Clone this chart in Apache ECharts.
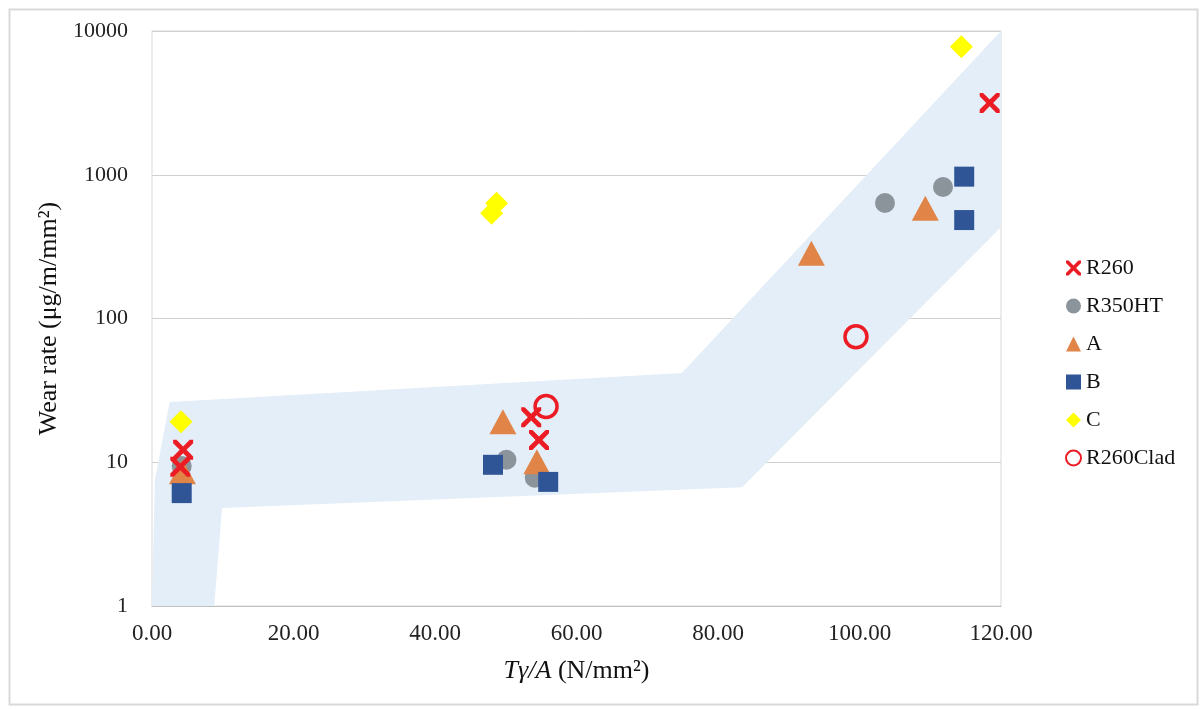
<!DOCTYPE html>
<html>
<head>
<meta charset="utf-8">
<script src="https://cdn.jsdelivr.net/npm/echarts@6/dist/echarts.min.js"></script>
<style>
html,body{margin:0;padding:0;background:#fff;}
#chart{width:1202px;height:709px;}
</style>
</head>
<body>
<div id="chart"></div>
<script>
// ---- data ----
const xTicks = [0, 20, 40, 60, 80, 100, 120];
const yTicks = [1, 10, 100, 1000, 10000];

const bandX = [2.5, 74.9, 120, 120, 83.4, 9.9, 8.8, 0, 0.4];
const bandY = [26.2, 41.8, 10000, 433, 6.7, 4.8, 1, 1, 7.5];

const r260X = [4.4, 4.0, 53.6, 54.7, 118.4];
const r260Y = [12.2, 9.3, 20.6, 14.3, 3160];

const r350X = [4.2, 50.1, 54.1, 103.6, 111.8];
const r350Y = [9.4, 10.4, 7.8, 636, 822];

const aX = [4.3, 49.6, 54.4, 93.2, 109.3];
const aY = [8.6, 19.1, 10.1, 284, 584];

const bX = [4.2, 48.2, 56.0, 114.8, 114.8];
const bY = [6.1, 9.6, 7.3, 970, 484];

const cX = [4.1, 48.7, 48.0, 114.4];
const cY = [19.1, 633, 539, 7780];

const cladX = [55.7, 99.5];
const cladY = [24.4, 74.7];

const seriesNames = ['R260', 'R350HT', 'A', 'B', 'C', 'R260Clad'];

// ---- chart ----
const pair = (xs, ys) => xs.map((x, i) => [x, ys[i]]);
const crossPath = 'path://M0,0 L1.7,0 L5,3.3 L8.3,0 L10,0 L10,1.7 L6.7,5 L10,8.3 L10,10 L8.3,10 L5,6.7 L1.7,10 L0,10 L0,8.3 L3.3,5 L0,1.7 Z';
const FONT = '"Liberation Serif", "Times New Roman", serif';

const chart = echarts.init(document.getElementById('chart'), null, {renderer: 'canvas'});
chart.setOption({
  backgroundColor: '#ffffff',
  animation: false,
  textStyle: {fontFamily: FONT},
  graphic: [{
    type: 'rect', left: 7, top: 7, z: -10,
    shape: {width: 1188, height: 695},
    style: {fill: 'none', stroke: '#d9d9d9', lineWidth: 2}
  }],
  grid: {left: 152, right: 201, top: 31, bottom: 103, show: true, borderColor: '#d9d9d9', borderWidth: 1, backgroundColor: 'transparent'},
  legend: {
    orient: 'vertical', left: 1060, top: 252,
    itemWidth: 15, itemHeight: 15, itemGap: 16,
    data: seriesNames,
    textStyle: {fontFamily: FONT, fontSize: 22, color: '#111'}
  },
  xAxis: {
    type: 'value', min: xTicks[0], max: xTicks[xTicks.length - 1], interval: 20,
    axisLine: {show: true, lineStyle: {color: '#bfbfbf', width: 1}},
    axisTick: {show: false},
    splitLine: {show: false},
    axisLabel: {fontFamily: FONT, fontSize: 23, color: '#222', margin: 16,
      formatter: v => Number(v).toFixed(2)},
    name: '{i|Tγ/A}{n| (N/mm²)}',
    nameLocation: 'middle', nameGap: 52,
    nameTextStyle: {rich: {
      i: {fontFamily: FONT, fontSize: 26, fontStyle: 'italic', color: '#111'},
      n: {fontFamily: FONT, fontSize: 26, color: '#111'}
    }}
  },
  yAxis: {
    type: 'log', logBase: 10, min: yTicks[0], max: yTicks[yTicks.length - 1],
    axisLine: {show: false},
    axisTick: {show: false},
    splitLine: {show: true, lineStyle: {color: '#d0d0d0', width: 1}},
    axisLabel: {fontFamily: FONT, fontSize: 22, color: '#222', margin: 24,
      formatter: v => String(Math.round(v))},
    name: 'Wear rate (μg/m/mm²)',
    nameLocation: 'middle', nameGap: 86, nameRotate: 90,
    nameTextStyle: {fontFamily: FONT, fontSize: 26, color: '#111'}
  },
  series: [
    {
      type: 'custom', name: 'band', z: 1, silent: true, clip: true,
      data: [[bandX[0], bandY[0]]],
      renderItem: (params, api) => ({
        type: 'polygon',
        shape: {points: bandX.map((x, i) => api.coord([x, bandY[i]]))},
        style: {fill: '#e4eef8'}
      })
    },
    {name: 'R260', type: 'scatter', z: 7, symbol: crossPath, symbolSize: 20,
      itemStyle: {color: '#ec1c24', opacity: 1}, data: pair(r260X, r260Y)},
    {name: 'R350HT', type: 'scatter', z: 3, symbol: 'circle', symbolSize: 20,
      itemStyle: {color: '#8b939b', opacity: 1}, data: pair(r350X, r350Y)},
    {name: 'A', type: 'scatter', z: 4, symbol: 'triangle', symbolSize: [27, 25],
      itemStyle: {color: '#e08447', opacity: 1}, data: pair(aX, aY)},
    {name: 'B', type: 'scatter', z: 5, symbol: 'rect', symbolSize: 20,
      itemStyle: {color: '#2f5597', opacity: 1}, data: pair(bX, bY)},
    {name: 'C', type: 'scatter', z: 6, symbol: 'diamond', symbolSize: 23,
      itemStyle: {color: '#ffff00', opacity: 1}, data: pair(cX, cY)},
    {name: 'R260Clad', type: 'scatter', z: 8, symbol: 'circle', symbolSize: 22,
      itemStyle: {color: 'rgba(255,255,255,0)', borderColor: '#ec1c24', borderWidth: 3.5, opacity: 1},
      data: pair(cladX, cladY)}
  ]
});
</script>
</body>
</html>
